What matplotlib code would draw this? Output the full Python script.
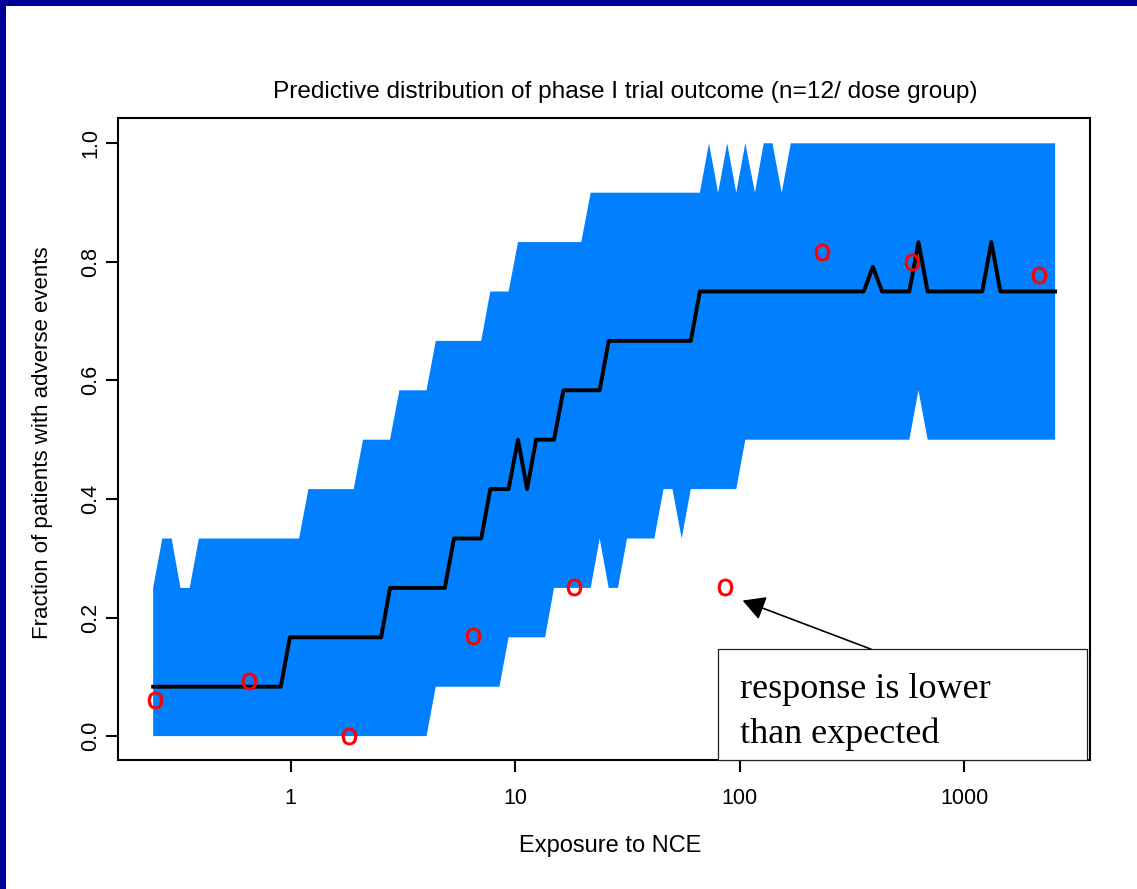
import numpy as np
import matplotlib
matplotlib.use("Agg")
import matplotlib.pyplot as plt
from matplotlib.patches import Rectangle

plt.rcParams['font.family'] = ['Liberation Sans', 'DejaVu Sans']

n_per_group = 12

# predictive band (events out of 12) at the corners of the outline
upper_x = [0.244, 0.268, 0.295, 0.323, 0.355, 0.390, 1.09, 1.20, 1.91, 2.10,
           2.77, 3.05, 4.03, 4.43, 7.06, 7.75, 9.35, 10.3, 19.7, 21.7,
           66.5, 73.0, 80.2, 88.0, 96.6, 106, 117, 128, 140, 154, 169, 2543]
upper_n = [3, 4, 4, 3, 3, 4, 4, 5, 5, 6,
           6, 7, 7, 8, 8, 9, 9, 10, 10, 11,
           11, 12, 11, 12, 11, 12, 11, 12, 12, 11, 12, 12]

median_x = [0.244, 0.904, 0.992, 2.53, 2.77, 4.86, 5.34, 7.06, 7.75, 9.35,
            10.3, 11.3, 12.4, 14.9, 16.4, 23.8, 26.1, 60.6, 66.5, 357,
            392, 431, 570, 626, 688, 1204, 1322, 1451, 2543]
median_n = [1, 1, 2, 2, 3, 3, 4, 4, 5, 5,
            6, 5, 6, 6, 7, 7, 8, 8, 9, 9,
            9.5, 9, 9, 10, 9, 9, 10, 9, 9]

lower_x = [0.244, 4.03, 4.43, 8.51, 9.35, 13.6, 14.9, 21.7, 23.8, 26.1,
           28.7, 31.5, 41.7, 45.8, 50.2, 55.2, 60.6, 96.6, 106, 570,
           626, 688, 2543]
lower_n = [0, 0, 1, 1, 2, 2, 3, 3, 4, 3,
           3, 4, 4, 5, 5, 4, 5, 5, 6, 6,
           7, 6, 6]

# observed outcome per dose group
obs_x = [0.249, 0.654, 1.82, 6.51, 18.2, 86.0, 232, 583, 2160]
obs_y = [0.061, 0.093, 0.0, 0.169, 0.251, 0.251, 0.816, 0.800, 0.778]

xticks = [1, 10, 100, 1000]
xticklabels = ["1", "10", "100", "1000"]
yticks = [0.0, 0.2, 0.4, 0.6, 0.8, 1.0]

upper_y = np.array(upper_n) / n_per_group
lower_y = np.array(lower_n) / n_per_group
median_y = np.array(median_n) / n_per_group

fig = plt.figure(figsize=(11.37, 8.89), dpi=100)
ax = fig.add_axes([0.1035, 0.1451, 0.8551, 0.7222])

band_x = np.concatenate([upper_x, lower_x[::-1]])
band_y = np.concatenate([upper_y, lower_y[::-1]])
ax.fill(band_x, band_y, color='#0080FF', lw=0)
ax.plot(median_x, median_y, color='black', lw=2.8)
ax.plot(obs_x, obs_y, ls='none', marker=r'$\mathsf{o}$', ms=12.5,
        color='red', mew=0.3)

ax.set_xscale('log')
ax.set_xlim(0.1696, 3634)
ax.set_ylim(-0.0403, 1.0427)
ax.xaxis.set_minor_locator(matplotlib.ticker.NullLocator())
ax.set_xticks(xticks)
ax.set_xticklabels(xticklabels)
ax.set_yticks(yticks)
ax.set_yticklabels(["%.1f" % v for v in yticks], rotation=90, va='center')
ax.tick_params(axis='both', direction='out', length=8.5, width=1.5,
               labelsize=15.5)
ax.tick_params(axis='x', pad=12)
ax.tick_params(axis='y', pad=3.5)
for s in ax.spines.values():
    s.set_linewidth(1.5)

ax.set_title("Predictive distribution of phase I trial outcome (n=12/ dose group)",
             fontsize=17.6, x=0.5223, y=1.0187, va='baseline')
ax.set_xlabel("Exposure to NCE", fontsize=17)
ax.xaxis.set_label_coords(0.5063, -0.1433)
ax.xaxis.label.set_va('baseline')
ax.set_ylabel("Fraction of patients with adverse events", fontsize=16,
              rotation_mode='anchor', va='baseline', ha='center')
ax.yaxis.set_label_coords(-0.0717, 0.4945)

# call-out box and arrow
ax.add_patch(Rectangle((0.6177, 0.0), 0.3789, 0.1724, transform=ax.transAxes,
                       facecolor='white', edgecolor='#222222', lw=0.9,
                       clip_on=False, zorder=3))
ax.text(0.640, 0.027, "response is lower\nthan expected", transform=ax.transAxes,
        family='Liberation Serif', fontsize=26, va='baseline', ha='left',
        linespacing=1.42, zorder=4)
ax.annotate("", xy=(103.1, 0.2287), xytext=(384.6, 0.1467),
            arrowprops=dict(arrowstyle='-|>,head_length=0.4,head_width=0.22',
                            mutation_scale=34, lw=1.2, color='black',
                            shrinkA=0, shrinkB=0))

# navy frame along the top and left edges
fig.add_artist(Rectangle((0, 1 - 6 / 889), 1, 6 / 889, transform=fig.transFigure,
                         color='#000099', lw=0))
fig.add_artist(Rectangle((0, 0), 6 / 1137, 1, transform=fig.transFigure,
                         color='#000099', lw=0))

fig.savefig('out.png', dpi=100)
